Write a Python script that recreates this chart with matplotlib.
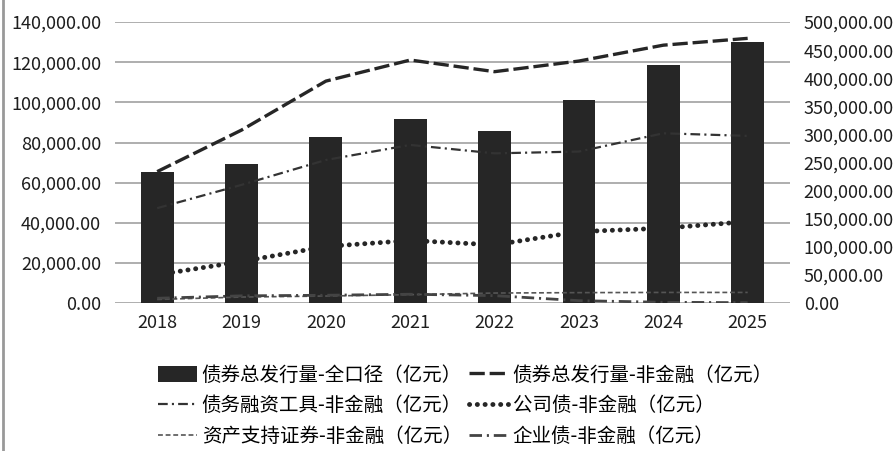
import numpy as np
import matplotlib
matplotlib.use('Agg')
import matplotlib.pyplot as plt
from matplotlib.ticker import FuncFormatter

plt.rcParams['font.family'] = ['Noto Sans CJK SC', 'DejaVu Sans']
plt.rcParams['lines.scale_dashes'] = False

# 数据（亿元）
years = ['2018', '2019', '2020', '2021', '2022', '2023', '2024', '2025']
total_all = [233900, 247600, 296100, 327600, 306800, 361900, 424100, 465000]     # 右轴
total_nonfin = [65500, 86200, 110600, 121100, 115300, 120600, 128500, 131900]    # 左轴
debt_tools = [47300, 58900, 71300, 78800, 74600, 75500, 84600, 83300]
corp_bond = [14100, 20700, 28200, 31200, 29000, 35600, 37300, 40600]
abs_sec = [1800, 3000, 3500, 4200, 5000, 5200, 5300, 5300]
ent_bond = [2400, 3600, 3900, 4400, 3700, 1200, 400, 200]

fig = plt.figure(figsize=(8.95, 4.51), dpi=100)
ax = fig.add_axes([0.1285, 0.328, 0.754, 0.623])
axb = ax.twinx()
axl = ax.twinx()

x = np.arange(len(years))
fmt = FuncFormatter(lambda v, p: f'{v:,.2f}')

# 左轴：网格
ax.set_ylim(0, 140000)
ax.set_yticks(np.arange(0, 140001, 20000))
ax.yaxis.set_major_formatter(fmt)
ax.grid(axis='y', color='#a8a8a8', linewidth=1.3)
ax.set_axisbelow(True)

# 右轴：柱
bars = axb.bar(x, total_all, width=0.39, color='#262626', zorder=2)
axb.set_ylim(0, 500000)
axb.set_yticks(np.arange(0, 500001, 50000))
axb.yaxis.set_major_formatter(fmt)

# 折线（左轴刻度）
axl.set_ylim(0, 140000)
axl.set_yticks([])
l1, = axl.plot(x, total_nonfin, color='#262626', lw=2.4, linestyle=(0, (11, 3.5)))
l2, = axl.plot(x, debt_tools, color='#333333', lw=1.6, linestyle=(0, (7, 3, 1.5, 3)))
l3, = axl.plot(x, corp_bond, color='#262626', lw=3.5, linestyle=(0, (0.1, 5.5)),
               dash_capstyle='round')
l4, = axl.plot(x, abs_sec, color='#555555', lw=1.2, linestyle=(0, (3.5, 2)))
l5, = axl.plot(x, ent_bond, color='#444444', lw=2, linestyle=(0, (9, 3.5, 1.5, 3.5)))

for a in (ax, axb, axl):
    a.set_xlim(-0.5, 7.5)
    for s in a.spines.values():
        s.set_visible(False)
    a.tick_params(length=0, labelsize=13, colors='#1e1e1e')
    a.patch.set_visible(False)

ax.set_xticks(x)
ax.set_xticklabels(years)
ax.tick_params(axis='x', pad=8)
ax.tick_params(axis='y', pad=10)
axb.tick_params(axis='y', pad=10)

handles = [bars, l2, l4, l1, l3, l5]
labels = ['债券总发行量-全口径（亿元）', '债务融资工具-非金融（亿元）', '资产支持证券-非金融（亿元）',
          '债券总发行量-非金融（亿元）', '公司债-非金融（亿元）', '企业债-非金融（亿元）']
fig.legend(handles, labels, ncol=2, loc='center', bbox_to_anchor=(0.52, 0.1),
           frameon=False, fontsize=14, handlelength=2.0, handletextpad=0.25,
           columnspacing=0.35, labelspacing=0.5, handleheight=0.85)

# 左侧边框线
fig.add_artist(plt.Line2D([0.003, 0.003], [0, 1], color='#999999', lw=2,
                          transform=fig.transFigure))

fig.savefig('out.png', dpi=100)
